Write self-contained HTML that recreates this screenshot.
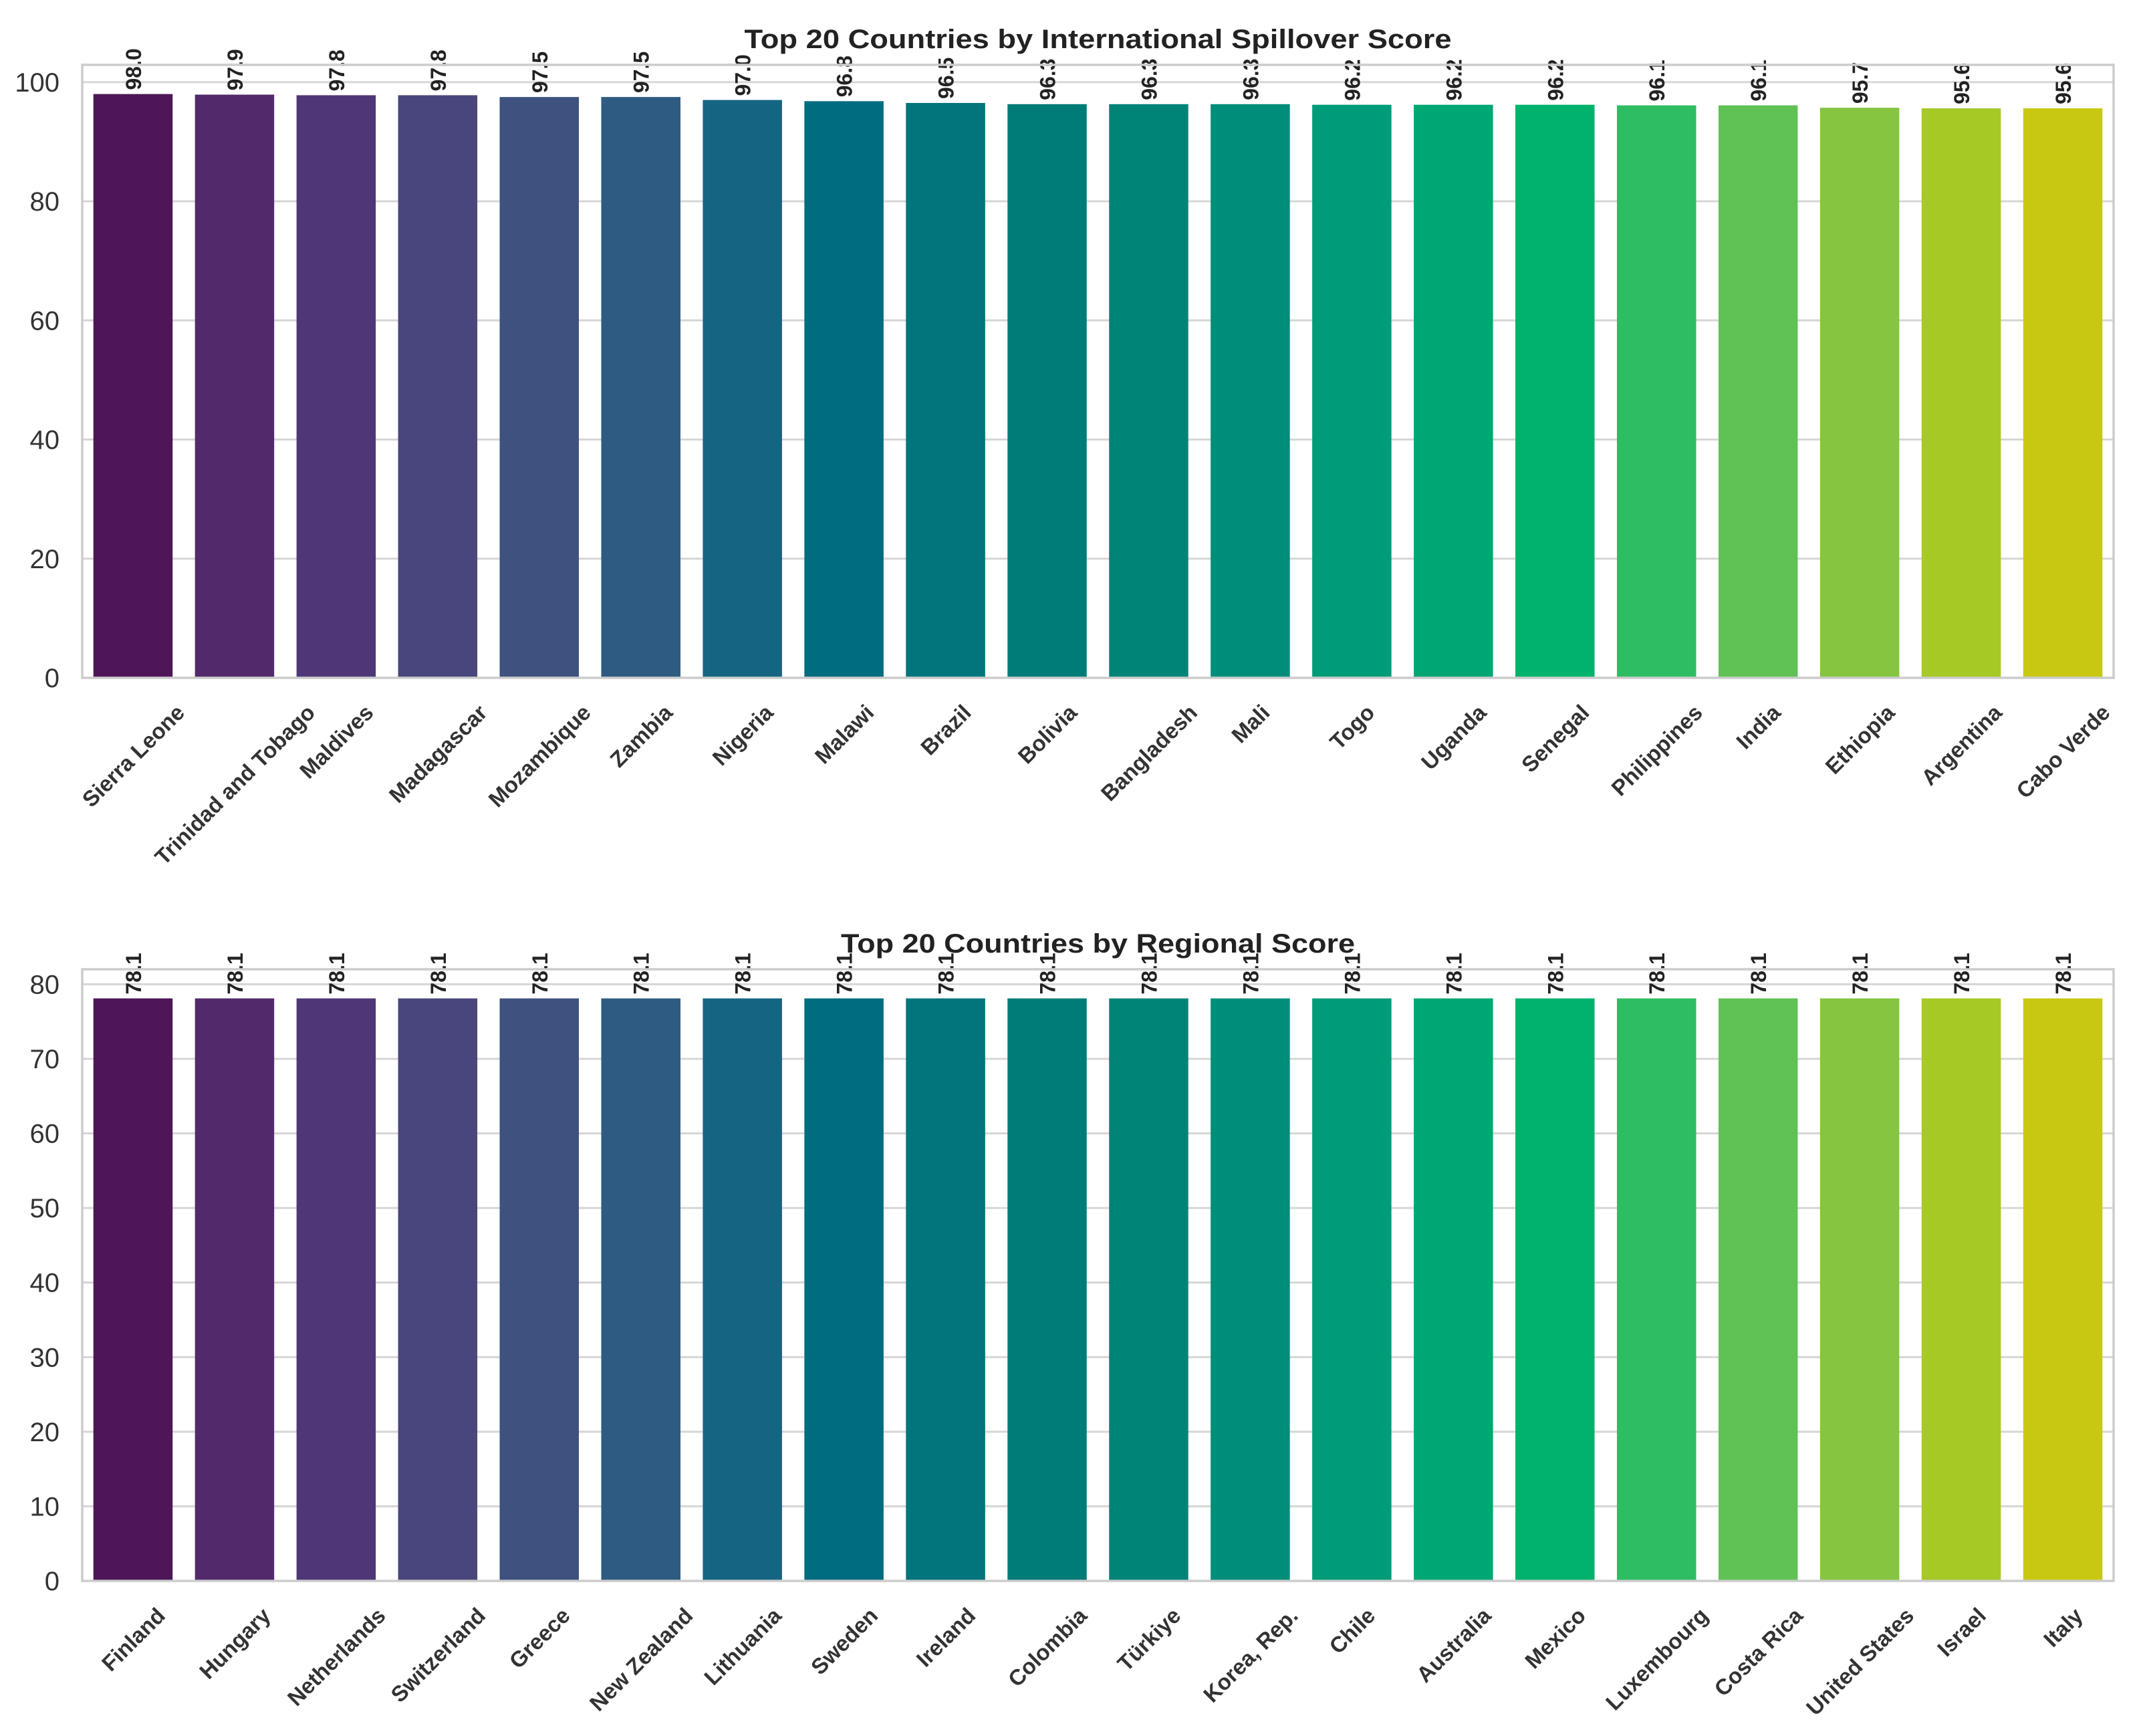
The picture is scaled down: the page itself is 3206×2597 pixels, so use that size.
<!DOCTYPE html>
<html><head><meta charset="utf-8">
<style>
html,body{margin:0;padding:0;background:#fff;}
svg{display:block;font-family:"Liberation Sans",Arial,sans-serif;}
</style></head>
<body>
<svg id="chart" width="3206" height="2597" viewBox="0 0 3206 2597" xmlns="http://www.w3.org/2000/svg">
<rect width="3206" height="2597" fill="#fff"/>
</svg>
<script>
const spillCountries = ["Sierra Leone","Trinidad and Tobago","Maldives","Madagascar","Mozambique","Zambia","Nigeria","Malawi","Brazil","Bolivia","Bangladesh","Mali","Togo","Uganda","Senegal","Philippines","India","Ethiopia","Argentina","Cabo Verde"];
const spillValues = [98.0,97.9,97.8,97.8,97.5,97.5,97.0,96.8,96.5,96.3,96.3,96.3,96.2,96.2,96.2,96.1,96.1,95.7,95.6,95.6];
const spillTicks = [0,20,40,60,80,100];
const regCountries = ["Finland","Hungary","Netherlands","Switzerland","Greece","New Zealand","Lithuania","Sweden","Ireland","Colombia","Türkiye","Korea, Rep.","Chile","Australia","Mexico","Luxembourg","Costa Rica","United States","Israel","Italy"];
const regValues = [78.1,78.1,78.1,78.1,78.1,78.1,78.1,78.1,78.1,78.1,78.1,78.1,78.1,78.1,78.1,78.1,78.1,78.1,78.1,78.1];
const regTicks = [0,10,20,30,40,50,60,70,80];
const barColors = ["#4e1658","#522a6c","#4f3777","#48467d","#3e527f","#2e5b82","#156582","#006c80","#00757c","#007c78","#008478","#008e7a","#009b78","#00a673","#00b26c","#2ebd62","#60c155","#85c540","#a6c925","#c8c813"];

const NS="http://www.w3.org/2000/svg";
const svg=document.getElementById('chart');
function mk(tag,attrs,parent){const e=document.createElementNS(NS,tag);for(const k in attrs)e.setAttribute(k,attrs[k]);(parent||svg).appendChild(e);return e;}

function drawChart(cfg){
  const g=mk('g',{});
  
  
  const L=123,R=3162,T=cfg.top,B=cfg.bottom;
  const ymax=Math.max(...cfg.values)*1.05;
  const y=v=>B-(v/ymax)*(B-T);
  const n=cfg.cats.length, step=(R-L)/n;
  const xc=i=>L+step*(i+0.5);
  cfg.ticks.forEach(t=>{
    const gl=mk('line',{x1:L,x2:R,y1:y(t),y2:y(t),stroke:'#d6d6d6','stroke-width':3},g);
    
    
    const tl=mk('text',{x:89,y:y(t)+14,'text-anchor':'end','font-size':40,fill:'#333'},g);
    tl.textContent=t;
    
    
  });
  cfg.values.forEach((v,i)=>{
    const w=step*0.78;
    const b=mk('rect',{x:xc(i)-w/2,y:y(v),width:w,height:B-y(v),fill:barColors[i]},g);
    
    
    const vl=mk('text',{x:0,y:0,'font-size':32,'font-weight':'bold',fill:'#222',
      transform:`translate(${xc(i)+12},${y(v)-6}) rotate(-90)`},g);
    vl.textContent=v.toFixed(1);
    
    
    const xl=mk('text',{x:0,y:0,'font-size':33,'font-weight':'bold',fill:'#333','text-anchor':'middle'},g);
    xl.textContent=cfg.cats[i];
    
    
    const len=xl.getComputedTextLength();
    const cy=B+34+(len*0.707+33*0.707)/2;
    xl.setAttribute('transform',`translate(${xc(i)},${cy}) rotate(-45) translate(0,12)`);
  });
  const fr=mk('rect',{x:L,y:T,width:R-L,height:B-T,fill:'none',stroke:'#cccccc','stroke-width':3.5},g);
  
  
  const tt=mk('text',{x:(L+R)/2,y:cfg.titleY,'text-anchor':'middle','font-size':40,'font-weight':'bold',fill:'#222',textLength:cfg.titleW,lengthAdjust:'spacingAndGlyphs'},g);
  tt.textContent=cfg.title;
  
  
}
drawChart({name:'spillover-chart',cats:spillCountries,values:spillValues,ticks:spillTicks,top:97,bottom:1014,title:'Top 20 Countries by International Spillover Score',titleY:72,titleW:1058});
drawChart({name:'regional-chart',cats:regCountries,values:regValues,ticks:regTicks,top:1450,bottom:2365,title:'Top 20 Countries by Regional Score',titleY:1425,titleW:769});
</script>
</body></html>
